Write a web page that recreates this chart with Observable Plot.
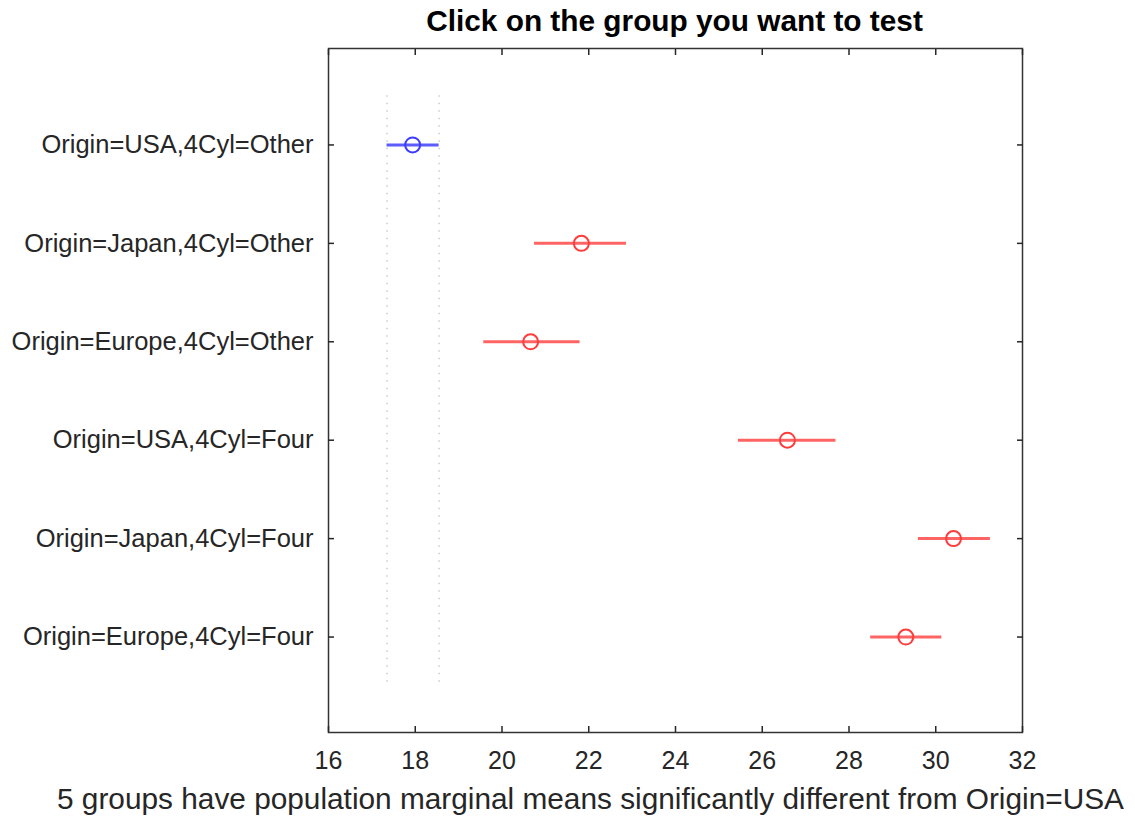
<!DOCTYPE html>
<html><head><meta charset="utf-8">
<script src="https://cdn.jsdelivr.net/npm/d3@7"></script>
<script src="https://cdn.jsdelivr.net/npm/@observablehq/plot@0.6"></script>
<style>
body{margin:0;background:#fff;font-family:"Liberation Sans",Arial,sans-serif;}
#wrap{position:relative;width:1135px;height:820px;overflow:hidden;}
#chart{position:absolute;left:0;top:0;}
#title{position:absolute;left:328px;width:693px;top:4px;text-align:center;font-weight:bold;font-size:29.8px;color:#000;white-space:nowrap;}
#caption{position:absolute;left:57px;top:782px;font-size:29.8px;color:#262626;white-space:nowrap;}
</style></head><body>
<div id="wrap">
<div id="chart"></div>
<div id="title">Click on the group you want to test</div>
<div id="caption">5 groups have population marginal means significantly different from Origin=USA</div>
</div>
<script>
const groups = ["Origin=USA,4Cyl=Other","Origin=Japan,4Cyl=Other","Origin=Europe,4Cyl=Other","Origin=USA,4Cyl=Four","Origin=Japan,4Cyl=Four","Origin=Europe,4Cyl=Four"];
const means = [17.94, 21.83, 20.66, 26.58, 30.41, 29.31];
const lower = [17.35, 20.75, 19.58, 25.45, 29.60, 28.50];
const upper = [18.55, 22.87, 21.80, 27.70, 31.26, 30.14];
const selected = 0;
const xTicks = [16,18,20,22,24,26,28,30,32];

const rows = groups.map((g,i)=>({group:g, pos:i+1, mean:means[i], lo:lower[i], hi:upper[i], sel:i===selected}));
const lineColor = d => d.sel ? "#5c5cff" : "#ff6464";
const dotColor = d => d.sel ? "#3c3cff" : "#ff3c3c";
const yTicks = groups.map((g,i)=>i+1);
const ref = [rows[selected].lo, rows[selected].hi];

const plot = Plot.plot({
  width: 1135, height: 820,
  marginLeft: 328, marginRight: 113, marginTop: 48, marginBottom: 88,
  style: {fontFamily: '"Liberation Sans", Arial, sans-serif', color: "#262626", background: "#fff"},
  x: {domain: [16, 32]},
  y: {domain: [0.02, 6.97], reverse: true},
  marks: [
    Plot.ruleX(ref, {x: d=>d, y1: 0.5, y2: groups.length + 0.5, stroke: "#cccccc", strokeWidth: 1.5, strokeDasharray: "1.5,6"}),
    Plot.ruleY(rows, {y: "pos", x1: "lo", x2: "hi", stroke: lineColor, strokeWidth: 3}),
    Plot.dot(rows, {x: "mean", y: "pos", r: 7.5, stroke: dotColor, strokeWidth: 2, fill: "none"}),
    Plot.frame({stroke: "#333333", strokeWidth: 1.5}),
    Plot.axisX({ticks: xTicks, tickSize: 0, tickPadding: 19, fontSize: 25, label: null, anchor: "bottom"}),
    Plot.axisX({ticks: xTicks, tickSize: -6, text: null, label: null, anchor: "bottom", strokeWidth: 1.5}),
    Plot.axisX({ticks: xTicks, tickSize: -6, text: null, label: null, anchor: "top", strokeWidth: 1.5}),
    Plot.axisY({ticks: yTicks, tickFormat: i => groups[i-1], tickSize: 0, tickPadding: 15, fontSize: 25.5, label: null, anchor: "left"}),
    Plot.axisY({ticks: yTicks, tickSize: -6, text: null, label: null, anchor: "left", strokeWidth: 1.5}),
    Plot.axisY({ticks: yTicks, tickSize: -6, text: null, label: null, anchor: "right", strokeWidth: 1.5})
  ]
});
document.getElementById("chart").appendChild(plot);
</script>
</body></html>
